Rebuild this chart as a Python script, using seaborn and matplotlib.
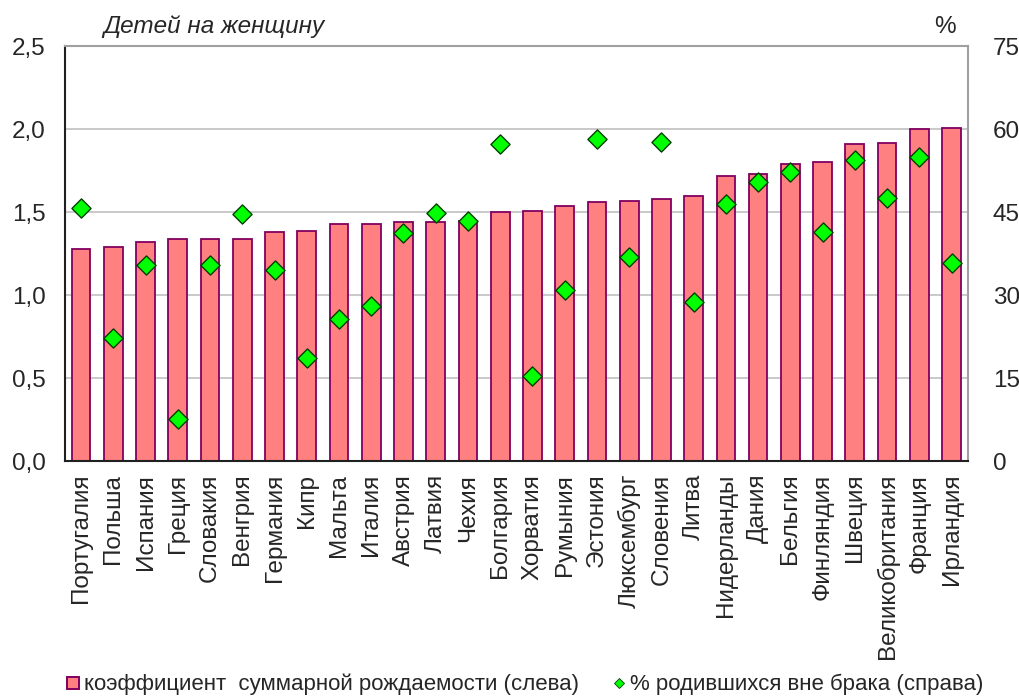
import numpy as np
import seaborn as sns
import matplotlib.pyplot as plt
from matplotlib.lines import Line2D
from matplotlib.ticker import FuncFormatter

countries = ["Португалия", "Польша", "Испания", "Греция", "Словакия", "Венгрия",
             "Германия", "Кипр", "Мальта", "Италия", "Австрия", "Латвия", "Чехия",
             "Болгария", "Хорватия", "Румыния", "Эстония", "Люксембург", "Словения",
             "Литва", "Нидерланды", "Дания", "Бельгия", "Финляндия", "Швеция",
             "Великобритания", "Франция", "Ирландия"]
fertility = [1.28, 1.29, 1.32, 1.34, 1.34, 1.34, 1.38, 1.39, 1.43, 1.43, 1.44, 1.44, 1.45,
             1.50, 1.51, 1.54, 1.56, 1.57, 1.58, 1.60, 1.72, 1.73, 1.79, 1.80, 1.91,
             1.92, 2.00, 2.01]
outside_marriage = [45.7, 22.2, 35.5, 7.7, 35.5, 44.6, 34.5, 18.6, 25.8, 28.0, 41.3, 44.9, 43.5,
                    57.3, 15.4, 30.9, 58.3, 37.0, 57.7, 28.7, 46.4, 50.4, 52.2, 41.4, 54.4,
                    47.5, 55.0, 35.8]

sns.set_style("white")
plt.rcParams["font.family"] = ["Liberation Sans", "DejaVu Sans"]
fs = 17.5

fig = plt.figure(figsize=(10.2, 7), dpi=100)
ax = fig.add_axes([0.0637, 0.341, 0.885, 0.593])

sns.barplot(x=countries, y=fertility, color="#FF8080", saturation=1, width=0.58,
            edgecolor="#800060", linewidth=1.3, ax=ax, zorder=2)
ax.set_ylim(0, 2.5)
ax.set_yticks([0, 0.5, 1.0, 1.5, 2.0, 2.5])
ax.yaxis.set_major_formatter(FuncFormatter(lambda v, p: f"{v:.1f}".replace(".", ",")))
ax.grid(axis="y", color="#C0C0C0", linewidth=1.2, zorder=0)
ax.set_axisbelow(True)
ax.set_xlim(-0.5, len(countries) - 0.5)
ax.tick_params(axis="x", labelrotation=90, labelsize=fs, length=0, pad=9)
ax.tick_params(axis="y", labelsize=fs, length=0, pad=14)
for s in ["left", "bottom"]:
    ax.spines[s].set_color("#202020")
    ax.spines[s].set_linewidth(1.5)
for s in ["top", "right"]:
    ax.spines[s].set_color("#A0A0A0")
    ax.spines[s].set_linewidth(1.5)

ax2 = ax.twinx()
sns.scatterplot(x=countries, y=outside_marriage, marker="D", s=95, color="#00FF00",
                edgecolor="#004000", linewidth=1.0, ax=ax2, zorder=3)
ax2.set_ylim(0, 75)
ax2.set_yticks([0, 15, 30, 45, 60, 75])
ax2.tick_params(axis="y", labelsize=fs, length=0, pad=18)
for s in ax2.spines.values():
    s.set_visible(False)

fig.text(0.101, 0.953, "Детей на женщину", fontsize=fs, style="italic", ha="left", va="baseline")
fig.text(0.926, 0.953, "%", fontsize=fs, ha="center", va="baseline")

handles = [
    Line2D([], [], marker="s", linestyle="none", markersize=9, markerfacecolor="#FF8080",
           markeredgecolor="#800060", markeredgewidth=1.4),
    Line2D([], [], marker="D", linestyle="none", markersize=5, markerfacecolor="#00FF00",
           markeredgecolor="#004000", markeredgewidth=0.6),
]
fig.legend(handles, ["коэффициент  суммарной рождаемости (слева)", "% родившихся вне брака (справа)"],
           loc="lower left", bbox_to_anchor=(0.043, -0.022), ncol=2, frameon=False,
           fontsize=16, handletextpad=0.1, columnspacing=1.4, handlelength=0.8)

fig.savefig("out.png", dpi=100)
